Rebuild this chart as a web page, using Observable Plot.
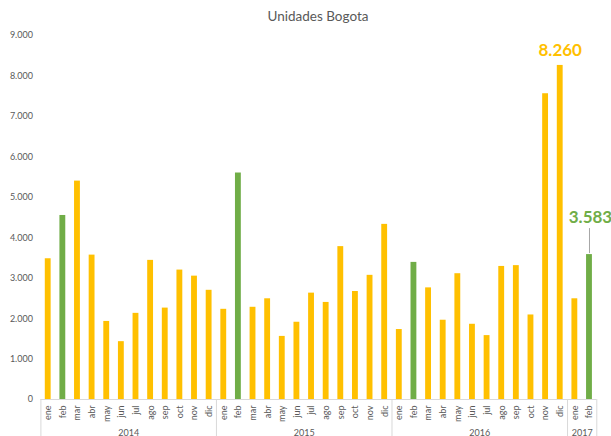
<!DOCTYPE html>
<html>
<head>
<meta charset="utf-8">
<script src="https://cdn.jsdelivr.net/npm/d3@7"></script>
<script src="https://cdn.jsdelivr.net/npm/@observablehq/plot@0.6"></script>
<style>
  body { margin: 0; background: #fff; font-family: Lato, "Liberation Sans", sans-serif; }
  #title { width: 611px; height: 28px; box-sizing: border-box; padding: 8px 15px 0 40px;
           line-height: 16px; text-align: center; font-size: 13.5px; color: #595959; }
</style>
</head>
<body>
<div id="title">Unidades Bogota</div>
<div id="chart"></div>
<script>
// ---- data ----
const years = ["2014", "2015", "2016", "2017"];
const monthNames = ["ene","feb","mar","abr","may","jun","jul","ago","sep","oct","nov","dic"];
const values2014 = [3480, 4550, 5400, 3570, 1930, 1430, 2130, 3440, 2260, 3200, 3050, 2700];
const values2015 = [2230, 5600, 2280, 2490, 1560, 1910, 2630, 2400, 3780, 2670, 3070, 4330];
const values2016 = [1730, 3390, 2760, 1960, 3110, 1860, 1580, 3290, 3310, 2090, 7560, 8260];
const values2017 = [2490, 3583];
const yTicks = [0, 1000, 2000, 3000, 4000, 5000, 6000, 7000, 8000, 9000];
const highlightMonth = "feb";
const peakLabel = {year: "2016", month: "dic"};
const lastLabel = {year: "2017", month: "feb"};

// ---- build table ----
const seriesByYear = [values2014, values2015, values2016, values2017];
const rows = [];
years.forEach((yr, yi) => {
  seriesByYear[yi].forEach((v, mi) => {
    rows.push({key: yr + "-" + monthNames[mi], year: yr, month: monthNames[mi], value: v,
               first: mi === 0, count: seriesByYear[yi].length, idx: mi});
  });
});
const keys = rows.map(d => d.key);

const ORANGE = "#FFC000", GREEN = "#70AD47", GRID = "#d9d9d9", TEXT = "#595959";
const W = 611, H = 408, ML = 40.4, MR = 14.7, MT = 7, MB = 37;

const fmt = d3.formatLocale({decimal: ",", thousands: ".", grouping: [3], currency: ["", ""]}).format(",d");

const xScaleOpts = {type: "band", domain: keys, paddingInner: 0.6, paddingOuter: 0.3, round: false};
const xs = Plot.scale({x: {...xScaleOpts, range: [ML, W - MR]}});
const step = xs.step ?? (W - ML - MR) / keys.length;

const yearStarts = rows.filter(d => d.first);
const lastRow = rows[rows.length - 1];
const yearCenters = rows.filter(d => d.idx === d.count / 2 - 1);
const peakRow = rows.filter(d => d.year === peakLabel.year && d.month === peakLabel.month);
const lastRowSel = rows.filter(d => d.year === lastLabel.year && d.month === lastLabel.month);

const chart = Plot.plot({
  width: W, height: H,
  marginTop: MT, marginBottom: MB, marginLeft: ML, marginRight: MR,
  x: xScaleOpts,
  y: {domain: [0, 9000]},
  color: {type: "identity"},
  style: {fontFamily: 'Lato, "Liberation Sans", sans-serif', color: TEXT, fontSize: "9px", background: "#fff"},
  marks: [
    Plot.ruleY([0], {stroke: GRID}),
    Plot.barY(rows, {x: "key", y: "value", fill: d => d.month === highlightMonth ? GREEN : ORANGE}),
    // year separators
    Plot.ruleX(yearStarts, {x: "key", y1: () => 0, y2: () => 0, insetBottom: -37, dx: -step / 2, stroke: GRID}),
    Plot.ruleX([lastRow], {x: "key", y1: () => 0, y2: () => 0, insetBottom: -37, dx: step / 2, stroke: GRID}),
    // year labels
    Plot.text(yearCenters, {x: "key", y: () => 0, text: "year", dx: step / 2, dy: 36, lineAnchor: "bottom", fontSize: 9, fill: TEXT}),
    // axes
    Plot.axisY({ticks: yTicks, tickSize: 0, tickPadding: 8, tickFormat: fmt, fontSize: 9, label: null}),
    Plot.axisX({tickRotate: -90, tickSize: 0, tickPadding: 6, tickFormat: k => k.split("-")[1], fontSize: 9, label: null}),
    // annotations
    Plot.text(peakRow, {x: "key", y: "value", text: d => fmt(d.value), dy: -9, lineAnchor: "bottom",
                        fill: ORANGE, fontWeight: "bold", fontSize: 17}),
    Plot.text(lastRowSel, {x: "key", y: "value", text: d => fmt(d.value), dy: -32, dx: 1, lineAnchor: "bottom",
                           fill: GREEN, fontWeight: "bold", fontSize: 17}),
    Plot.ruleX(lastRowSel, {x: "key", y1: "value", y2: "value", insetTop: -1, insetBottom: 26, stroke: "#a6a6a6"})
  ]
});
document.getElementById("chart").appendChild(chart);
</script>
</body>
</html>
